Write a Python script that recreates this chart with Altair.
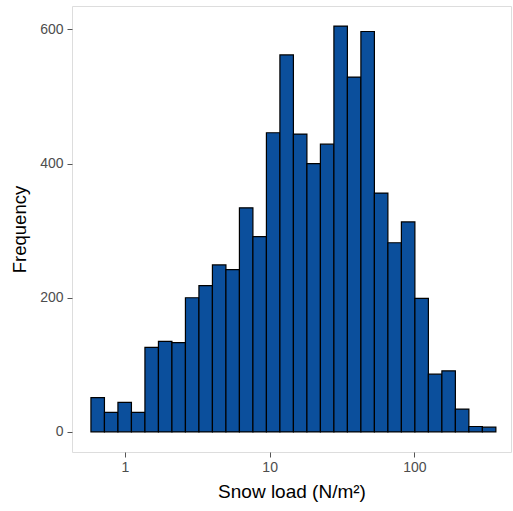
import altair as alt
import pandas as pd
import math

# Histogram of snow load, 30 log-spaced bins
counts = [51, 29, 44, 29, 126, 135, 133, 200, 218, 249,
          242, 334, 291, 446, 562, 444, 400, 429, 605, 529,
          597, 356, 282, 313, 199, 86, 91, 34, 8, 7]
x_min = 0.582
x_max = 366.0
n_bins = len(counts)

lo, hi = math.log10(x_min), math.log10(x_max)
step = (hi - lo) / n_bins
edges = [10 ** (lo + i * step) for i in range(n_bins + 1)]
df = pd.DataFrame({
    "start": edges[:-1],
    "end": edges[1:],
    "count": counts,
})

x_ticks = [1, 10, 100]
y_ticks = [0, 200, 400, 600]

font = "Liberation Sans"
chart = alt.Chart(df).mark_bar(
    color="#0B4F9C", stroke="black", strokeWidth=1.2
).encode(
    x=alt.X("start:Q",
            scale=alt.Scale(type="log", domain=[10 ** -0.366, 10 ** 2.668], nice=False),
            axis=alt.Axis(values=x_ticks, title="Snow load (N/m²)", format="~g",
                          grid=False, domain=False, tickColor="#555", tickSize=5,
                          labelColor="#4D4D4D", labelFontSize=14, labelPadding=3,
                          titleFontSize=19, titleColor="black", titleFontWeight="normal",
                          titlePadding=8, labelFont=font, titleFont=font)),
    x2="end:Q",
    y=alt.Y("count:Q",
            scale=alt.Scale(domain=[-30, 635], nice=False, zero=False),
            axis=alt.Axis(values=y_ticks, title="Frequency",
                          grid=False, domain=False, tickColor="#555", tickSize=5,
                          labelColor="#4D4D4D", labelFontSize=14, labelPadding=4,
                          titleFontSize=18.5, titleColor="black", titleFontWeight="normal",
                          titlePadding=10, labelFont=font, titleFont=font)),
    y2=alt.datum(0),
).properties(
    width=439, height=446,
    padding={"left": 72, "top": 6, "right": 2, "bottom": 59},
    autosize=alt.AutoSizeParams(type="none"),
).configure_view(
    stroke="#555", strokeWidth=1
).configure(background="white")

chart.save("out.html", embed_options={"renderer": "svg", "actions": False})
